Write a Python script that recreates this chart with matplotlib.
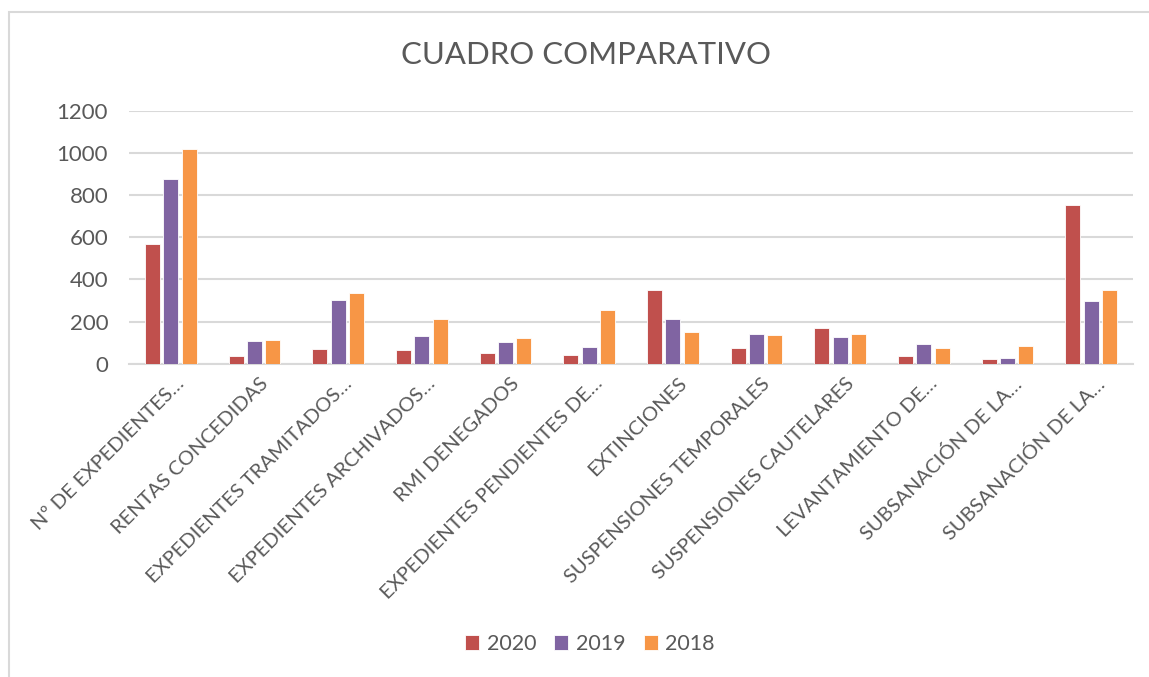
import numpy as np
import matplotlib.pyplot as plt
from matplotlib.patches import Rectangle
from matplotlib.transforms import ScaledTranslation

categories = [
    "Nº DE EXPEDIENTES…",
    "RENTAS CONCEDIDAS",
    "EXPEDIENTES TRAMITADOS…",
    "EXPEDIENTES ARCHIVADOS…",
    "RMI DENEGADOS",
    "EXPEDIENTES PENDIENTES DE…",
    "EXTINCIONES",
    "SUSPENSIONES TEMPORALES",
    "SUSPENSIONES CAUTELARES",
    "LEVANTAMIENTO DE…",
    "SUBSANACIÓN DE LA…",
    "SUBSANACIÓN DE LA…",
]
years = ["2020", "2019", "2018"]
values_2020 = [568, 36, 70, 65, 51, 40, 348, 73, 171, 38, 22, 753]
values_2019 = [875, 106, 304, 130, 101, 78, 214, 139, 128, 95, 25, 297]
values_2018 = [1018, 114, 335, 210, 122, 255, 150, 134, 139, 74, 82, 350]
colors = ["#C0504D", "#8064A2", "#F79646"]

TXT = "#595959"
plt.rcParams['font.family'] = ['Lato', 'DejaVu Sans']

fig = plt.figure(figsize=(11.49, 6.77), dpi=100)
W, H = 1149, 677
# plot area in pixels: x 129..1133, y 110.7..363.7
ax = fig.add_axes([129 / W, 1 - 363.7 / H, (1133 - 129) / W, (363.7 - 110.7) / H])

x = np.arange(len(categories))
step = 0.22
width = 0.18
series = [values_2020, values_2019, values_2018]
for i, (vals, c, lab) in enumerate(zip(series, colors, years)):
    ax.bar(x + (i - 1) * step, vals, width, color=c, label=lab,
           edgecolor="white", linewidth=0.6, zorder=3)

ax.set_xlim(-0.5, len(categories) - 0.5)
ax.set_ylim(0, 1200)
ax.set_yticks(range(0, 1201, 200))
ax.grid(axis="y", color="#D9D9D9", linewidth=1.5, zorder=0)
for s in ["top", "right", "left"]:
    ax.spines[s].set_visible(False)
ax.spines["bottom"].set_color("#D9D9D9")
ax.spines["bottom"].set_linewidth(1.5)
ax.tick_params(axis="both", length=0, colors=TXT)
ax.tick_params(axis="y", pad=15, labelsize=16)
ax.set_xticks(x)
ax.set_xticklabels(categories, rotation=45, ha="right", rotation_mode="anchor",
                   color=TXT, fontsize=14.5)
ax.tick_params(axis="x", pad=8)
shift = ScaledTranslation(5 / 100, 0, fig.dpi_scale_trans)
for lbl in ax.get_xticklabels():
    lbl.set_transform(lbl.get_transform() + shift)

fig.text(586 / W, 1 - 55 / H, "CUADRO COMPARATIVO", ha="center", va="center",
         fontsize=22.4, color=TXT)

leg = fig.legend(loc="center", bbox_to_anchor=(590 / W, 1 - 644 / H), ncol=3,
                 frameon=False, fontsize=15.5, handlelength=0.65, handleheight=0.65,
                 handletextpad=0.35, columnspacing=0.84, labelcolor=TXT)

fig.patches.append(Rectangle((9 / W, -0.1), 1.2, 1 - 12 / H + 0.1,
                             transform=fig.transFigure, fill=False,
                             edgecolor="#D9D9D9", linewidth=1.5))

fig.savefig("out.png", dpi=100)
